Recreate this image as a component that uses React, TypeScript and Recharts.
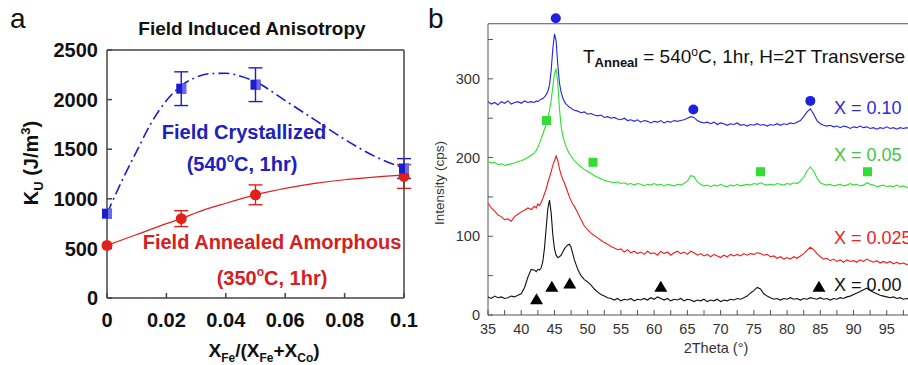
import React from "react";
import {
  ComposedChart,
  Line,
  Scatter,
  XAxis,
  YAxis,
  ErrorBar,
  ReferenceLine,
} from "recharts";

const font = '"Liberation Sans", Arial, sans-serif';

// ---- panel a : field induced anisotropy ----
const fracTicks = [0, 0.02, 0.04, 0.06, 0.08, 0.1];
const kuTicks = [0, 500, 1000, 1500, 2000, 2500];

const fracX = [0, 0.025, 0.05, 0.1];
const crystKu = [850, 2110, 2150, 1305];
const crystErr = [0, 170, 170, 100];
const amorKu = [530, 800, 1040, 1225];
const amorErr = [0, 80, 100, 120];

// fitted guide curves
const crystFitX = [0, 0.005, 0.01, 0.015, 0.02, 0.025, 0.03, 0.035, 0.04, 0.045, 0.05, 0.06, 0.07, 0.08, 0.09, 0.1];
const crystFitKu = [850, 1180, 1480, 1770, 1990, 2140, 2225, 2262, 2265, 2235, 2180, 1990, 1795, 1600, 1430, 1310];
const amorFitX = [0, 0.01, 0.02, 0.025, 0.03, 0.04, 0.05, 0.06, 0.07, 0.08, 0.09, 0.1];
const amorFitKu = [530, 640, 750, 800, 860, 955, 1040, 1105, 1155, 1192, 1218, 1238];

// ---- panel b : XRD ----
const thetaTicks = [35, 37.5, 40, 42.5, 45, 47.5, 50, 52.5, 55, 57.5, 60, 62.5, 65, 67.5, 70, 72.5, 75, 77.5, 80, 82.5, 85, 87.5, 90, 92.5, 95, 97.5, 100];
const cpsTicks = [0, 50, 100, 150, 200, 250, 300, 350];

const theta = [
  35, 35.5, 36, 36.5, 37, 37.5, 38, 38.5, 39, 39.5,
  40, 40.5, 41, 41.5, 42, 42.25, 42.5, 42.75, 43, 43.25,
  43.5, 43.75, 44, 44.25, 44.5, 44.75, 45, 45.25, 45.5, 45.75,
  46, 46.25, 46.5, 46.75, 47, 47.25, 47.5, 47.75, 48, 48.5,
  49, 49.5, 50, 50.5, 51, 51.5, 52, 52.5, 53, 53.5,
  54, 54.5, 55, 55.5, 56, 56.5, 57, 57.5, 58, 58.5,
  59, 59.5, 60, 60.5, 61, 61.5, 62, 62.5, 63, 63.5,
  64, 64.5, 65, 65.5, 66, 66.5, 67, 67.5, 68, 68.5,
  69, 69.5, 70, 70.5, 71, 71.5, 72, 72.5, 73, 73.5,
  74, 74.5, 75, 75.5, 76, 76.5, 77, 77.5, 78, 78.5,
  79, 79.5, 80, 80.5, 81, 81.5, 82, 82.5, 83, 83.5,
  84, 84.5, 85, 85.5, 86, 86.5, 87, 87.5, 88, 88.5,
  89, 89.5, 90, 90.5, 91, 91.5, 92, 92.5, 93, 93.5,
  94, 94.5, 95, 95.5, 96, 96.5, 97, 97.5, 98, 98.5,
  99, 99.5, 100,
];

const x010 = [
  271, 268, 270, 267, 271, 269, 272, 268, 270, 271,
  269, 272, 270, 271, 270, 272, 271, 273, 274, 275,
  277, 280, 284, 292, 310, 338, 357, 348, 318, 295,
  283, 276, 271, 268, 266, 264, 263, 261, 260, 259,
  257, 258, 255, 256, 254, 253, 254, 251, 252, 250,
  251, 249, 248, 250, 247, 248, 246, 248, 245, 247,
  246, 244, 246, 245, 247, 244, 246, 245, 247, 246,
  247, 248, 250, 252, 251, 247, 245, 244, 245, 243,
  245, 242, 244, 243, 241, 243, 242, 244, 241, 242,
  240, 242, 241, 243, 241, 242, 240, 242, 241, 243,
  241, 243, 242, 244, 243, 245, 247, 252, 258, 262,
  255, 247, 243, 241, 240, 241, 239, 240, 238, 240,
  239, 237, 239, 238, 240, 238, 239, 237, 238, 236,
  238, 237, 239, 237, 238, 236, 238, 237, 238, 236,
  237, 236, 237,
];

const x005 = [
  195, 193, 194, 191, 192, 190, 191, 192, 193, 195,
  196, 198, 200, 203, 206, 209, 213, 218, 224, 230,
  236, 242, 250, 260, 272, 290, 306, 313, 295, 262,
  240, 228, 220, 214, 209, 205, 202, 199, 196, 192,
  188, 185, 182, 180, 177, 175, 173, 171, 170, 169,
  168, 169, 167, 168, 166, 167, 165, 167, 166, 164,
  166, 165, 167, 165, 166, 164, 166, 165, 164, 166,
  165, 167, 170, 177, 176, 169, 166, 164, 165, 163,
  165, 164, 166, 164, 163, 165, 164, 166, 164, 165,
  166, 165, 167, 166, 168, 166, 165, 166, 165, 167,
  166, 165, 167, 166, 168, 167, 170, 175, 183, 188,
  183, 174, 168, 166, 165, 166, 164, 165, 166, 164,
  165, 167, 165, 166, 164, 165, 168, 166, 165, 163,
  164, 165, 163, 164, 163, 165, 163, 164, 162, 163,
  162, 163, 162,
];

const x0025 = [
  142, 136, 132, 127, 125, 121, 122, 119, 125, 128,
  131, 133, 136, 134, 138, 136, 141, 139, 143, 148,
  154, 160, 168, 175, 182, 190, 196, 202, 196, 186,
  178, 172, 168, 162, 156, 150, 145, 141, 138, 130,
  121, 113, 108, 104, 101, 98, 95, 92, 90, 87,
  85, 83, 84, 80, 83, 79, 81, 78, 80, 77,
  81, 78, 79, 76, 81, 78, 80, 76, 79, 81,
  78, 80, 77, 81, 79, 76, 78, 75, 77, 74,
  77, 75, 73, 76, 74, 77, 75, 77, 75, 78,
  76, 78, 77, 79, 78, 76, 77, 74, 75, 72,
  74, 71, 73, 71, 74, 72, 75, 78, 82, 86,
  83, 78, 74, 71, 72, 69, 71, 68, 70, 67,
  70, 68, 69, 67, 70, 68, 71, 69, 67, 69,
  66, 68, 66, 68, 65, 67, 65, 66, 64, 66,
  64, 65, 64,
];

const x000 = [
  23, 21, 24, 22, 23, 21, 22, 24, 23, 25,
  27, 35, 48, 58, 57, 55, 58, 57, 60, 68,
  85, 110, 135, 146, 130, 102, 84, 76, 73, 74,
  76, 80, 84, 87, 89, 90, 86, 78, 70, 58,
  50, 45, 42, 38, 33, 29, 26, 24, 22, 21,
  19, 21, 18, 20, 19, 21, 18, 20, 19, 21,
  19, 22, 20, 23, 21, 19, 21, 18, 20, 19,
  21, 18, 20, 19, 17, 19, 18, 20, 17, 19,
  18, 20, 17, 19, 18, 20, 19, 21, 20, 22,
  24, 28, 31, 35, 33, 27, 24, 22, 20, 21,
  19, 21, 20, 22, 20, 21, 19, 21, 20, 22,
  21, 20, 22, 20, 21, 19, 21, 20, 22, 21,
  23, 24, 26, 28, 30, 32, 34, 31, 29, 27,
  25, 24, 23, 22, 23, 21, 22, 20, 21, 20,
  21, 20, 21,
];

// phase markers: [2theta, cps]
const bccMarks = [[45.2, 377], [65.9, 261], [83.5, 272]];
const greenMarks = [[43.8, 247], [50.8, 194], [76, 182], [92.1, 182]];
const triMarks = [[42.3, 20], [44.6, 36], [47.3, 40], [61, 36], [84.8, 36]];

const BLUE = "#1c1cd0";
const RED = "#e0201c";

const zipK = (xs: number[], ks: number[], errs?: number[]) =>
  xs.map((x, i) => ({ x, k: ks[i], err: errs ? errs[i] : 0 }));
const zipT = (vals: number[]) => theta.map((t, i) => ({ t, v: vals[i] }));
const marks = (m: number[][]) => m.map(([t, v]) => ({ t, v }));

const BlueSquare = (p: any) => (
  <g>
    <rect x={p.cx - 5} y={p.cy - 5} width={10} height={10} fill={BLUE} />
    <rect x={p.cx + 1} y={p.cy - 5} width={4} height={10} fill="#6a6ae6" />
  </g>
);
const RedDot = (p: any) => <circle cx={p.cx} cy={p.cy} r={5.5} fill={RED} />;
const BlueCircle = (p: any) => <circle cx={p.cx} cy={p.cy} r={5} fill="#2020e0" />;
const GreenSquare = (p: any) => (
  <rect x={p.cx - 4.5} y={p.cy - 4.5} width={9} height={9} fill="#33dd33" />
);
const Triangle = (p: any) => (
  <polygon
    points={`${p.cx},${p.cy - 6} ${p.cx + 6.5},${p.cy + 5} ${p.cx - 6.5},${p.cy + 5}`}
    fill="#000"
  />
);

const axA = { stroke: "#444", strokeWidth: 1.5 };
const tickA = { fill: "#111", fontSize: 20, fontWeight: 700, fontFamily: font };
const axB = { stroke: "#555", strokeWidth: 1 };
const tickB = { fill: "#333", fontSize: 14.5, fontFamily: font };

function PanelA() {
  return (
    <ComposedChart width={420} height={365} margin={{ top: 49, right: 15, bottom: 37, left: 0 }}>
      <XAxis
        dataKey="x"
        type="number"
        domain={[0, 0.1]}
        ticks={fracTicks}
        interval={0}
        tickFormatter={(v) => String(v)}
        tickSize={-5}
        tickMargin={20}
        height={30}
        axisLine={axA}
        tickLine={axA}
        tick={tickA}
      />
      <XAxis
        xAxisId="top"
        orientation="top"
        dataKey="x"
        type="number"
        domain={[0, 0.1]}
        ticks={fracTicks}
        interval={0}
        tickFormatter={() => ""}
        tickSize={-5}
        height={1}
        axisLine={axA}
        tickLine={axA}
      />
      <YAxis
        dataKey="k"
        type="number"
        domain={[0, 2500]}
        ticks={kuTicks}
        interval={0}
        width={107}
        tickSize={-5}
        tickMargin={14}
        axisLine={axA}
        tickLine={axA}
        tick={tickA}
      />
      <YAxis
        yAxisId="right"
        orientation="right"
        type="number"
        domain={[0, 2500]}
        ticks={kuTicks}
        interval={0}
        width={1}
        tickFormatter={() => ""}
        tickSize={-5}
        axisLine={axA}
        tickLine={axA}
      />
      <Line
        data={zipK(crystFitX, crystFitKu)}
        dataKey="k"
        type="monotone"
        stroke={BLUE}
        strokeWidth={1.6}
        strokeDasharray="11 4 2 4"
        dot={false}
        isAnimationActive={false}
      />
      <Line
        data={zipK(amorFitX, amorFitKu)}
        dataKey="k"
        type="monotone"
        stroke={RED}
        strokeWidth={1.2}
        dot={false}
        isAnimationActive={false}
      />
      <Scatter data={zipK(fracX, amorKu, amorErr)} shape={RedDot} isAnimationActive={false}>
        <ErrorBar dataKey="err" direction="y" width={7} stroke={RED} strokeWidth={1.4} />
      </Scatter>
      <Scatter data={zipK(fracX, crystKu, crystErr)} shape={BlueSquare} isAnimationActive={false}>
        <ErrorBar dataKey="err" direction="y" width={7} stroke={BLUE} strokeWidth={1.4} />
      </Scatter>
    </ComposedChart>
  );
}

function PanelB() {
  return (
    <ComposedChart width={510} height={365} margin={{ top: 8, right: 10, bottom: 20, left: 0 }}>
      <XAxis
        dataKey="t"
        type="number"
        domain={[35, 100]}
        ticks={thetaTicks}
        interval={0}
        tickFormatter={(v) => (v % 5 === 0 ? String(v) : "")}
        tickSize={-5}
        tickMargin={14}
        height={30}
        axisLine={axB}
        tickLine={axB}
        tick={tickB}
      />
      <YAxis
        dataKey="v"
        type="number"
        domain={[0, 390]}
        ticks={cpsTicks}
        interval={0}
        tickFormatter={(v) => (v % 100 === 0 ? String(v) : "")}
        width={68}
        tickSize={-5}
        tickMargin={13}
        axisLine={false}
        tickLine={axB}
        tick={tickB}
      />
      <ReferenceLine segment={[{ x: 35, y: 0 }, { x: 35, y: 370 }]} stroke="#555" />
      <ReferenceLine segment={[{ x: 35, y: 370 }, { x: 100, y: 370 }]} stroke="#555" />
      <Line data={zipT(x000)} dataKey="v" stroke="#111" strokeWidth={1.1} dot={false} isAnimationActive={false} />
      <Line data={zipT(x0025)} dataKey="v" stroke="#f01c1c" strokeWidth={1.1} dot={false} isAnimationActive={false} />
      <Line data={zipT(x005)} dataKey="v" stroke="#2ee02e" strokeWidth={1.1} dot={false} isAnimationActive={false} />
      <Line data={zipT(x010)} dataKey="v" stroke="#2323e8" strokeWidth={1.1} dot={false} isAnimationActive={false} />
      <Scatter data={marks(bccMarks)} shape={BlueCircle} isAnimationActive={false} />
      <Scatter data={marks(greenMarks)} shape={GreenSquare} isAnimationActive={false} />
      <Scatter data={marks(triMarks)} shape={Triangle} isAnimationActive={false} />
    </ComposedChart>
  );
}

function Labels() {
  return (
    <svg width={908} height={365} style={{ position: "absolute", left: 0, top: 0 }} fontFamily={font}>
      <text x={10} y={28} fontSize={28} fill="#111">a</text>
      <text x={428} y={28} fontSize={28} fill="#111">b</text>

      <text x={252} y={34.5} textAnchor="middle" fontSize={19} fontWeight={700} fill="#111">
        Field Induced Anisotropy
      </text>
      <text transform="translate(38,163) rotate(-90)" textAnchor="middle" fontSize={20} fontWeight={700} fill="#111">
        K<tspan fontSize={13} dy={5}>U</tspan>
        <tspan dy={-5}> (J/m</tspan>
        <tspan fontSize={13} dy={-8}>3</tspan>
        <tspan dy={8}>)</tspan>
      </text>
      <text x={264} y={357} textAnchor="middle" fontSize={19} fontWeight={700} fill="#111">
        X<tspan fontSize={12} dy={5}>Fe</tspan>
        <tspan dy={-5}>/(X</tspan>
        <tspan fontSize={12} dy={5}>Fe</tspan>
        <tspan dy={-5}>+X</tspan>
        <tspan fontSize={12} dy={5}>Co</tspan>
        <tspan dy={-5}>)</tspan>
      </text>

      <g fontSize={20} fontWeight={700}>
        <text x={244} y={138.5} textAnchor="middle" fill="#2020c0">Field Crystallized</text>
        <text x={242} y={171} textAnchor="middle" fill="#2020c0">
          (540<tspan fontSize={12} dy={-9}>o</tspan>
          <tspan dy={9}>C, 1hr)</tspan>
        </text>
        <text x={272} y={248.5} textAnchor="middle" fill="#d42020">Field Annealed Amorphous</text>
        <text x={272} y={285} textAnchor="middle" fill="#d42020">
          (350<tspan fontSize={12} dy={-9}>o</tspan>
          <tspan dy={9}>C, 1hr)</tspan>
        </text>
      </g>

      <text x={583} y={63} fontSize={19} fill="#111">
        T<tspan fontSize={13} fontWeight={700} dy={4}>Anneal</tspan>
        <tspan dy={-4}> = 540</tspan>
        <tspan fontSize={12} dy={-7}>o</tspan>
        <tspan dy={7}>C, 1hr, H=2T Transverse</tspan>
      </text>
      <text transform="translate(444,183) rotate(-90)" textAnchor="middle" fontSize={13.5} fill="#333">
        Intensity (cps)
      </text>
      <text x={716} y={353} textAnchor="middle" fontSize={14.5} fill="#333">
        2Theta (°)
      </text>

      <g fontSize={18}>
        <text x={834} y={114} fill="#2b2bd6">X = 0.10</text>
        <text x={834} y={160.5} fill="#3cc83c">X = 0.05</text>
        <text x={834} y={243.5} fill="#ee2222">X = 0.025</text>
        <text x={834} y={290.5} fill="#111">X = 0.00</text>
      </g>
    </svg>
  );
}

export default function App() {
  return (
    <div
      style={{
        position: "absolute",
        left: 0,
        top: 0,
        width: 908,
        height: 365,
        overflow: "hidden",
        background: "#fff",
        fontFamily: font,
      }}
    >
      <div style={{ position: "absolute", left: 0, top: 0 }}>
        <PanelA />
      </div>
      <div style={{ position: "absolute", left: 420, top: 0 }}>
        <PanelB />
      </div>
      <Labels />
    </div>
  );
}
